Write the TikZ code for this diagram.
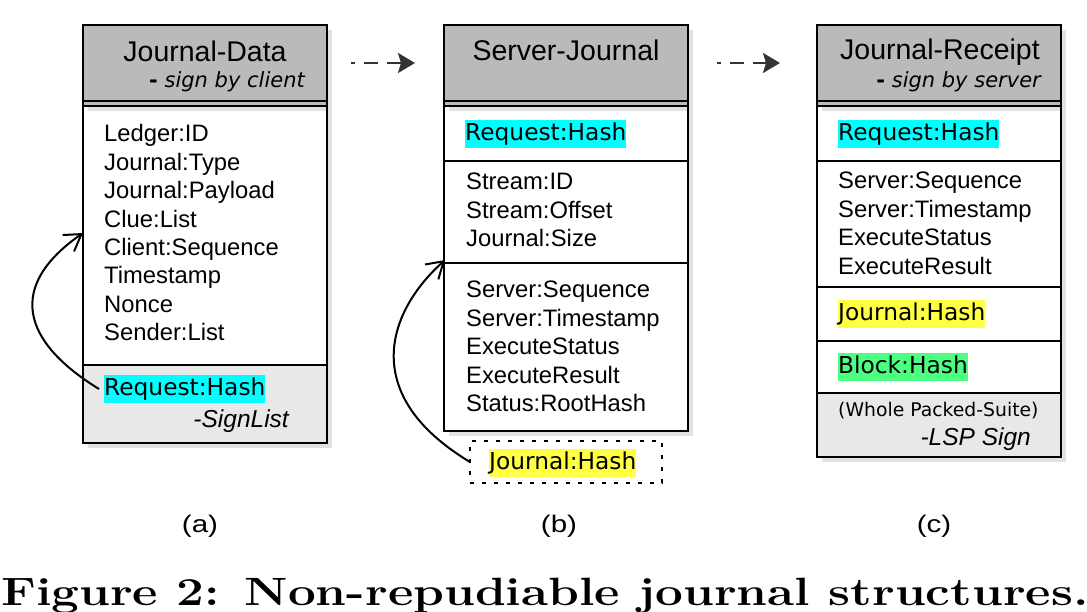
\documentclass[tikz,border=0pt]{standalone}
\usepackage{fontspec}
\newfontfamily\lsans{Liberation Sans}
\newfontfamily\lsanswide{Liberation Sans}[FakeStretch=1.23]
\newfontfamily\dvsans{DejaVu Sans}
\usetikzlibrary{arrows.meta}
\definecolor{hdrgray}{HTML}{BABABA}
\definecolor{shadowgray}{HTML}{E2E2E2}
\definecolor{secgray}{HTML}{E8E8E8}
\definecolor{hlcyan}{HTML}{00FFFF}
\definecolor{hlyellow}{HTML}{FFFF44}
\definecolor{hlgreen}{HTML}{4DFF80}
\definecolor{arrowgray}{HTML}{333333}
\begin{document}
\begin{tikzpicture}[x=1pt,y=-1pt,
  border/.style={draw=black, line width=2pt},
  hdrbox/.style={border, fill=hdrgray, inner sep=0, outer sep=0, minimum width=244pt, minimum height=81pt},
  bodybox/.style={border, fill=white, inner sep=0, outer sep=0, minimum width=244pt},
  field/.style={anchor=base west, inner sep=0, font=\lsans\fontsize{23.8}{28}\selectfont},
  title/.style={anchor=base, inner sep=0, font=\lsans\fontsize{28.5}{32}\selectfont},
  subtitle/.style={anchor=base east, inner sep=0, font=\dvsans\fontsize{21}{24}\selectfont},
  hl/.style={anchor=base west, inner xsep=0, inner ysep=2.5pt, text height=18pt, text depth=5pt, font=\dvsans\fontsize{23.3}{26}\selectfont},
  signnote/.style={anchor=base east, inner sep=0, font=\lsans\itshape\fontsize{24.5}{28}\selectfont},
  smallnote/.style={anchor=base west, inner sep=0, font=\dvsans\fontsize{18.8}{22}\selectfont},
  flow/.style={draw=arrowgray, line width=2pt, dash pattern=on 14pt off 9pt, dash phase=10pt, -{Stealth[length=17pt,width=20pt,inset=3pt]}},
  backarrow/.style={draw=black, line width=2pt, -{Straight Barb[length=16pt,width=20pt]}},
  sublabel/.style={anchor=base, inner sep=0, font=\lsanswide\fontsize{24}{28}\selectfont},
  dotbox/.style={draw=black, line width=2pt, dash pattern=on 4pt off 8pt, inner sep=0, outer sep=0, minimum width=192pt, minimum height=42pt},
]
\useasboundingbox (0,0) rectangle (1087,612);

% shadows
\fill[shadowgray] (88,30) rectangle (332,448);
\fill[shadowgray] (449,30) rectangle (693,436);
\fill[shadowgray] (822,30) rectangle (1066,462);

% bodies
\node[bodybox, minimum height=337pt] (ba) at (205,274.5) {};
\node[bodybox, minimum height=325pt] (bb) at (566,268.5) {};
\node[bodybox, minimum height=351pt] (bc) at (939,281.5) {};

% grey bottom sections
\fill[secgray] (84,366) rectangle (326,442);
\fill[secgray] (818,394) rectangle (1060,456);

% header shadow strips
\fill[shadowgray] (88,107) rectangle (326,111);
\fill[shadowgray] (449,107) rectangle (687,111);
\fill[shadowgray] (822,107) rectangle (1060,111);

% headers
\node[hdrbox] (ha) at (205,65.5) {};
\node[hdrbox] (hb) at (566,65.5) {};
\node[hdrbox] (hc) at (939,65.5) {};
\draw[border] (83,101) -- (327,101);
\draw[border] (444,101) -- (688,101);
\draw[border] (817,101) -- (1061,101);

% section lines
\draw[border] (83,365) -- (327,365);
\draw[border] (444,161) -- (688,161);
\draw[border] (444,263) -- (688,263);
\draw[border] (817,161) -- (1061,161);
\draw[border] (817,287) -- (1061,287);
\draw[border] (817,341) -- (1061,341);
\draw[border] (817,393) -- (1061,393);

% titles
\node[title] (ta1) at (205,61.5) {Journal-Data};
\node[subtitle] (ta2) at (305,88) {\textbf{-} \itshape sign by client};
\node[title] (tb1) at (566,60.7) {Server-Journal};
\node[title] (tc1) at (940,60) {Journal-Receipt};
\node[subtitle] (tc2) at (1041,88) {\textbf{-} \itshape sign by server};

% box a fields
\foreach \t [count=\i] in {Ledger:ID, Journal:Type, Journal:Payload, Clue:List, Client:Sequence, Timestamp, Nonce, Sender:List}
  \node[field] (fa\i) at (104,{142+(\i-1)*28.4}) {\t};
\node[hl, fill=hlcyan] (ra) at (104,395.5) {Request:Hash};
\node[signnote] (sa) at (289,427) {-SignList};

% box b fields
\node[hl, fill=hlcyan] (rb) at (465,140.5) {Request:Hash};
\foreach \t [count=\i] in {Stream:ID, Stream:Offset, Journal:Size}
  \node[field] (fb\i) at (466,{190+(\i-1)*28.5}) {\t};
\foreach \t [count=\i] in {Server:Sequence, Server:Timestamp, ExecuteStatus, ExecuteResult, Status:RootHash}
  \node[field] (gb\i) at (466,{297.7+(\i-1)*28.5}) {\t};
\node[dotbox] (jhbox) at (566,462) {};
\node[hl, fill=hlyellow] (jhb) at (489,469) {Journal:Hash};

% box c fields
\node[hl, fill=hlcyan] (rc) at (838,140.5) {Request:Hash};
\foreach \t [count=\i] in {Server:Sequence, Server:Timestamp, ExecuteStatus, ExecuteResult}
  \node[field] (fc\i) at (838,{189+(\i-1)*28.5}) {\t};
\node[hl, fill=hlyellow] (jhc) at (838,321) {Journal:Hash};
\node[hl, fill=hlgreen] (bhc) at (838,373) {Block:Hash};
\node[smallnote] (wc) at (838,416) {(Whole Packed-Suite)};
\node[signnote] (lc) at (1031,445) {-LSP Sign};

% connectors
\draw[flow] ([xshift=24pt,yshift=2.5pt]ha.east) -- ([xshift=-29pt,yshift=2.5pt]hb.west);
\draw[flow] ([xshift=29pt,yshift=2.5pt]hb.east) -- ([xshift=-37pt,yshift=2.5pt]hc.west);
\coordinate (tipa) at (83,233);
\coordinate (tipb) at (445,260);
\draw[backarrow] ([xshift=-5pt]ra.west) .. controls (21,341) and (7,286) .. (tipa);
\draw[backarrow] (jhbox.west) .. controls (358.6,395) and (387,312) .. (tipb);

% sub labels
\node[sublabel] (la) at (200,532) {(a)};
\node[sublabel] (lb) at (559,532) {(b)};
\node[sublabel] (lcc) at (934,532) {(c)};

% caption
\node[anchor=base west, inner sep=0] (cap) at (1,605) {\scalebox{1.25}[1]{\fontsize{39.5}{40}\selectfont\bfseries Figure 2: Non-repudiable journal structures.}};
\end{tikzpicture}
\end{document}
